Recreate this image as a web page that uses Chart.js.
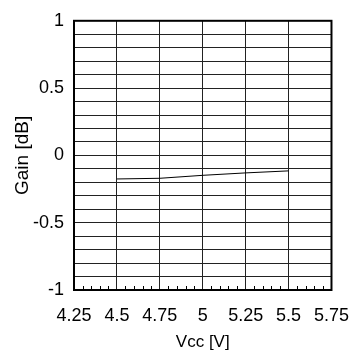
<!DOCTYPE html>
<html><head><meta charset="utf-8">
<script src="https://cdn.jsdelivr.net/npm/chart.js@4/dist/chart.umd.min.js"></script>
<style>html,body{margin:0;padding:0;background:#fff}#wrap{width:364px;height:360px}</style>
</head><body><div id="wrap"><canvas id="c" width="364" height="360"></canvas></div>
<script>
const vcc = [4.5, 4.75, 5, 5.25, 5.5];
const gain = [-0.175, -0.17, -0.148, -0.13, -0.115];
const xTicks = [4.25, 4.5, 4.75, 5, 5.25, 5.5, 5.75];
const yLabels = [-1, -0.5, 0, 0.5, 1];
const xTitle = 'Vcc [V]';
const yTitle = 'Gain [dB]';

const FONT = 'Liberation Sans, Arial, Helvetica, sans-serif';

const frame = {
  id: 'frame',
  afterDraw(chart) {
    const {ctx, chartArea: a, scales} = chart;
    ctx.save();
    ctx.strokeStyle = '#000';
    ctx.lineWidth = 1;
    const xs = scales.x;
    for (let i = 0; i < xTicks.length - 1; i++) {
      const s = xTicks[i], e = xTicks[i + 1];
      for (let k = 1; k < 5; k++) {
        const v = s + (e - s) * k / 5;
        const px = Math.round(xs.getPixelForValue(v)) + 0.5;
        ctx.beginPath();
        ctx.moveTo(px, a.bottom);
        ctx.lineTo(px, a.bottom - 4);
        ctx.stroke();
      }
    }
    ctx.lineWidth = 2;
    ctx.strokeRect(a.left, a.top, a.right - a.left, a.bottom - a.top);
    ctx.restore();
  }
};

new Chart(document.getElementById('c'), {
  type: 'scatter',
  data: {
    datasets: [{
      data: vcc.map((v, i) => ({x: v, y: gain[i]})),
      showLine: true,
      borderColor: '#000',
      borderWidth: 1,
      pointRadius: 0,
      fill: false
    }]
  },
  options: {
    responsive: false,
    animation: false,
    events: [],
    layout: {padding: {left: 0, right: 29, top: 15, bottom: 0}},
    plugins: {legend: {display: false}, tooltip: {enabled: false}},
    scales: {
      x: {
        type: 'linear', min: 4.25, max: 5.75,
        afterBuildTicks: s => { s.ticks = xTicks.map(v => ({value: v})); },
        afterFit: s => { s.height = 70; },
        grid: {color: '#222', lineWidth: 1, drawTicks: false},
        border: {display: false},
        ticks: {
          autoSkip: false, maxRotation: 0, padding: 15, color: '#000',
          font: {family: FONT, size: 18},
          callback: v => String(v)
        },
        title: {display: true, text: xTitle, color: '#000', font: {family: FONT, size: 17}, padding: {top: 0, bottom: 7}}
      },
      y: {
        type: 'linear', min: -1, max: 1,
        afterBuildTicks: s => {
          const t = [];
          for (let i = -10; i <= 10; i++) t.push({value: i / 10});
          s.ticks = t;
        },
        afterFit: s => { s.width = 74; },
        grid: {color: '#222', lineWidth: 1, drawTicks: false},
        border: {display: false},
        ticks: {
          autoSkip: false, padding: 10, color: '#000',
          font: {family: FONT, size: 18},
          callback: v => {
            const r = Math.round(v * 10) / 10;
            return yLabels.some(l => Math.abs(l - r) < 1e-6) ? String(r) : '';
          }
        },
        title: {display: true, text: yTitle, color: '#000', font: {family: FONT, size: 19}, padding: {top: 11, bottom: 0}}
      }
    }
  },
  plugins: [frame]
});
</script></body></html>
